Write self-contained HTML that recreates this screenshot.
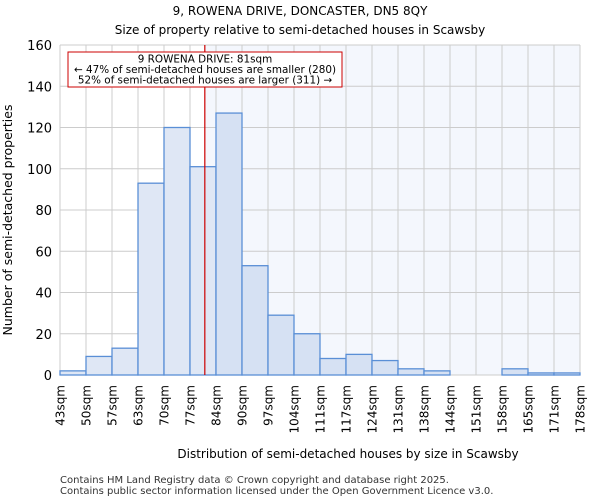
<!DOCTYPE html>
<html><head><meta charset="utf-8"><style>
body{margin:0;background:#fff;font-family:"DejaVu Sans","Liberation Sans",sans-serif;}
</style></head><body>
<svg id="c" width="600" height="500" xmlns="http://www.w3.org/2000/svg" font-family="DejaVu Sans, Liberation Sans, sans-serif">
<text x="300" y="15" text-anchor="middle" font-size="12">9, ROWENA DRIVE, DONCASTER, DN5 8QY</text>
<text x="300" y="34" text-anchor="middle" font-size="12">Size of property relative to semi-detached houses in Scawsby</text>
<g id="plot"></g>
<text x="348" y="458" text-anchor="middle" font-size="12">Distribution of semi-detached houses by size in Scawsby</text>
<text transform="translate(12,220) rotate(-90)" text-anchor="middle" font-size="12.5">Number of semi-detached properties</text>
<text x="60" y="483" font-size="10" fill="#333">Contains HM Land Registry data © Crown copyright and database right 2025.</text>
<text x="60" y="494" font-size="10" fill="#333">Contains public sector information licensed under the Open Government Licence v3.0.</text>
</svg>
<script>
const categories=["43sqm","50sqm","57sqm","63sqm","70sqm","77sqm","84sqm","90sqm","97sqm","104sqm","111sqm","117sqm","124sqm","131sqm","138sqm","144sqm","151sqm","158sqm","165sqm","171sqm","178sqm"];
const counts=[2,9,13,93,120,101,127,53,29,20,8,10,7,3,2,0,0,3,1,1];
const yTicks=[0,20,40,60,80,100,120,140,160];
const markerIndex=5.57;
const NS="http://www.w3.org/2000/svg";
const g=document.getElementById('plot');
const X0=60,X1=580,Y0=375,Y1=45,YMAX=160,n=counts.length;
const x=i=>X0+(X1-X0)*i/n;
const y=v=>Y0-(Y0-Y1)*v/YMAX;
function mk(t,a){const e=document.createElementNS(NS,t);for(const k in a)e.setAttribute(k,a[k]);g.appendChild(e);return e;}
const mx=x(markerIndex);
let e=mk('rect',{x:mx,y:Y1,width:X1-mx,height:Y0-Y1,fill:'#f4f7fd'});


for(let i=0;i<=n;i++){e=mk('line',{x1:x(i),x2:x(i),y1:Y1,y2:Y0,stroke:'#cccccc','stroke-width':1});

}
yTicks.forEach(t=>{e=mk('line',{x1:X0,x2:X1,y1:y(t),y2:y(t),stroke:'#cccccc','stroke-width':1});


const tx=mk('text',{x:X0-8,y:y(t)+5,'text-anchor':'end','font-size':13});tx.textContent=t;

});
counts.forEach((v,i)=>{const r=mk('rect',{x:x(i),y:y(v),width:x(i+1)-x(i),height:Y0-y(v),fill:i<6?'#dfe7f5':'#d6e1f3',stroke:'#5a8fd6','stroke-width':1.3});

});
categories.forEach((c,i)=>{const tx=mk('text',{transform:`translate(${x(i)+4.5},385) rotate(-90)`,'text-anchor':'end','font-size':12});tx.textContent=c;

});
e=mk('line',{x1:mx,x2:mx,y1:Y1,y2:Y0,stroke:'#cc0000','stroke-width':1.2});


e=mk('rect',{x:68,y:52,width:274,height:35,fill:'#fff',stroke:'#cc0000','stroke-width':1});


["9 ROWENA DRIVE: 81sqm","← 47% of semi-detached houses are smaller (280)","52% of semi-detached houses are larger (311) →"].forEach((s,k)=>{const tx=mk('text',{x:205,y:62.5+k*10.5,'text-anchor':'middle','font-size':10.4});tx.textContent=s;

});
</script>
</body></html>
